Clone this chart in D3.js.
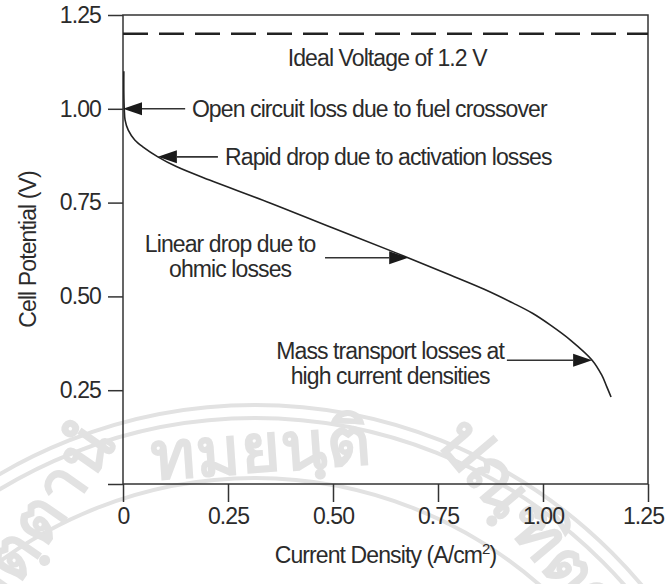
<!DOCTYPE html>
<html>
<head>
<meta charset="utf-8">
<script src="https://cdn.jsdelivr.net/npm/d3@7"></script>
<style>
  body { margin: 0; background: #fff; }
  svg text { font-family: "Liberation Sans", Arial, sans-serif; fill: #2b2b2b; }
</style>
</head>
<body>
<svg id="chart" width="667" height="584"></svg>
<script>
// polarization curve
const currentDensity = [0.002, 0.002, 0.003, 0.005, 0.0125, 0.028, 0.048, 0.083, 0.127, 0.206, 0.35, 0.5, 0.65, 0.779, 0.86, 0.929, 0.975, 1.017, 1.066, 1.117, 1.14, 1.152, 1.162];
const cellPotential  = [1.10, 1.04, 1.0, 0.970, 0.943, 0.917, 0.898, 0.872, 0.846, 0.810, 0.749, 0.682, 0.616, 0.557, 0.519, 0.482, 0.455, 0.424, 0.383, 0.330, 0.290, 0.259, 0.232];
const idealVoltage = 1.2;

const xTicks = [0, 0.25, 0.5, 0.75, 1.0, 1.25];
const xTickLabels = ["0", "0.25", "0.50", "0.75", "1.00", "1.25"];
const yTicks = [0, 0.25, 0.5, 0.75, 1.0, 1.25];
const yTickLabels = ["", "0.25", "0.50", "0.75", "1.00", "1.25"];

// annotations (data units)
const noteTexts = [
  ["Open circuit loss due to fuel crossover"],
  ["Rapid drop due to activation losses"],
  ["Linear drop due to", "ohmic losses"],
  ["Mass transport losses at", "high current densities"]
];
const noteAt = [[0.164, 1.00], [0.243, 0.872], [0.255, 0.640], [0.636, 0.355]];
const noteAnchor = ["start", "start", "middle", "middle"];
const arrowTips = [[0, 1.00], [0.083, 0.872], [0.679, 0.603], [1.117, 0.330]];
const arrowTails = [[0.148, 1.00], [0.226, 0.872], [0.481, 0.603], [0.914, 0.330]];
const idealNote = ["Ideal Voltage of 1.2 V", 0.629, 1.135];

function drawChart() {
  let svg = d3.select("#chart"),
      margin = {top: 15, right: 19, bottom: 100, left: 123},
      width = +svg.attr("width") - margin.left - margin.right,
      height = +svg.attr("height") - margin.top - margin.bottom;

  // faint watermark seal
  let wm = svg.append("g").attr("class", "watermark");
  wm.selectAll("circle")
    .data([505, 492, 432])
    .enter().append("circle")
    .attr("cx", 255).attr("cy", 910).attr("r", d => d)
    .attr("fill", "none").attr("stroke", "#e2e2e2").attr("stroke-width", 4);
  let wmWords = [["อตฺตานํ", 56, 532, -55], ["ทมยนฺติ", 262, 472, -4], ["ปณฺฑิตา", 512, 535, 50]];
  wm.selectAll("text")
    .data(wmWords)
    .enter().append("text")
    .attr("transform", d => "translate(" + d[1] + "," + d[2] + ") rotate(" + d[3] + ")")
    .attr("text-anchor", "middle")
    .style("font-size", "68px")
    .style("font-weight", "bold")
    .style("fill", "#e2e2e2")
    .text(d => d[0]);

  let g = svg.append("g").attr("transform", "translate(" + margin.left + "," + margin.top + ")");

  let x = d3.scaleLinear().domain([0, 1.25]).range([0, width]);
  let y = d3.scaleLinear().domain([0, 1.25]).range([height, 0]);

  // frame
  g.append("rect")
    .attr("width", width).attr("height", height)
    .attr("fill", "none").attr("stroke", "#333").attr("stroke-width", 1.5);

  g.append("g")
    .attr("class", "x axis")
    .attr("transform", "translate(0," + height + ")")
    .call(d3.axisBottom(x).tickValues(xTicks).tickSize(18).tickPadding(6)
      .tickFormat((d, i) => xTickLabels[i]))
    .call(a => a.select(".domain").remove());

  g.append("g")
    .attr("class", "y axis")
    .call(d3.axisLeft(y).tickValues(yTicks).tickSize(15).tickPadding(7)
      .tickFormat((d, i) => yTickLabels[i]))
    .call(a => a.select(".domain").remove());

  g.selectAll(".tick line").attr("stroke", "#333").attr("stroke-width", 1.5);
  g.selectAll(".tick text")
    .style("font-size", "23px").style("letter-spacing", "-0.9px")
    .attr("fill", "#2b2b2b");
  // last x label sits a little left so it stays on the page
  g.selectAll(".x.axis .tick text").filter((d, i) => i == xTicks.length - 1).attr("dx", -5);

  // ideal voltage
  g.append("line")
    .attr("x1", x(0)).attr("x2", x(1.25))
    .attr("y1", y(idealVoltage)).attr("y2", y(idealVoltage))
    .attr("stroke", "#222").attr("stroke-width", 2.5)
    .attr("stroke-dasharray", "25,11");

  g.append("text")
    .attr("x", x(idealNote[1])).attr("y", y(idealNote[2]))
    .attr("dy", "0.35em").attr("text-anchor", "middle")
    .style("font-size", "23px").style("letter-spacing", "-0.9px")
    .text(idealNote[0]);

  // curve
  let pts = currentDensity.map((d, i) => [d, cellPotential[i]]);
  g.append("path")
    .datum(pts)
    .attr("fill", "none").attr("stroke", "#222").attr("stroke-width", 1.6)
    .attr("d", d3.line().x(d => x(d[0])).y(d => y(d[1])).curve(d3.curveCatmullRom));

  // arrows
  arrowTips.forEach((tip, i) => {
    let tail = arrowTails[i];
    let tx = x(tip[0]), ty = y(tip[1]), sx = x(tail[0]), sy = y(tail[1]);
    let ang = Math.atan2(ty - sy, tx - sx), L = 19, W = 6.5;
    let bx = tx - L * Math.cos(ang), by = ty - L * Math.sin(ang);
    g.append("line")
      .attr("x1", sx).attr("y1", sy).attr("x2", bx).attr("y2", by)
      .attr("stroke", "#333").attr("stroke-width", 1.6);
    g.append("path")
      .attr("d", "M" + tx + "," + ty +
        "L" + (bx - W * Math.sin(ang)) + "," + (by + W * Math.cos(ang)) +
        "L" + (bx + W * Math.sin(ang)) + "," + (by - W * Math.cos(ang)) + "Z")
      .attr("fill", "#1a1a1a");
  });

  // annotation text
  noteTexts.forEach((lines, i) => {
    let t = g.append("text")
      .attr("x", x(noteAt[i][0])).attr("y", y(noteAt[i][1]))
      .attr("text-anchor", noteAnchor[i])
      .style("font-size", "23px").style("letter-spacing", "-0.9px");
    lines.forEach((s, j) => {
      t.append("tspan").attr("x", x(noteAt[i][0]))
        .attr("dy", j == 0 ? "0.35em" : "1.08em").text(s);
    });
  });

  // axis titles
  svg.append("text")
    .attr("transform", "translate(36," + (margin.top + height / 2) + ") rotate(-90)")
    .attr("text-anchor", "middle")
    .style("font-size", "23px").style("letter-spacing", "-0.9px")
    .text("Cell Potential (V)");

  let xt = svg.append("text")
    .attr("x", margin.left + width / 2).attr("y", 563)
    .attr("text-anchor", "middle")
    .style("font-size", "23px").style("letter-spacing", "-0.9px");
  xt.append("tspan").text("Current Density (A/cm");
  xt.append("tspan").attr("dy", "-9").style("font-size", "15px").text("2");
  xt.append("tspan").attr("dy", "9").text(")");
}

drawChart();
</script>
</body>
</html>
